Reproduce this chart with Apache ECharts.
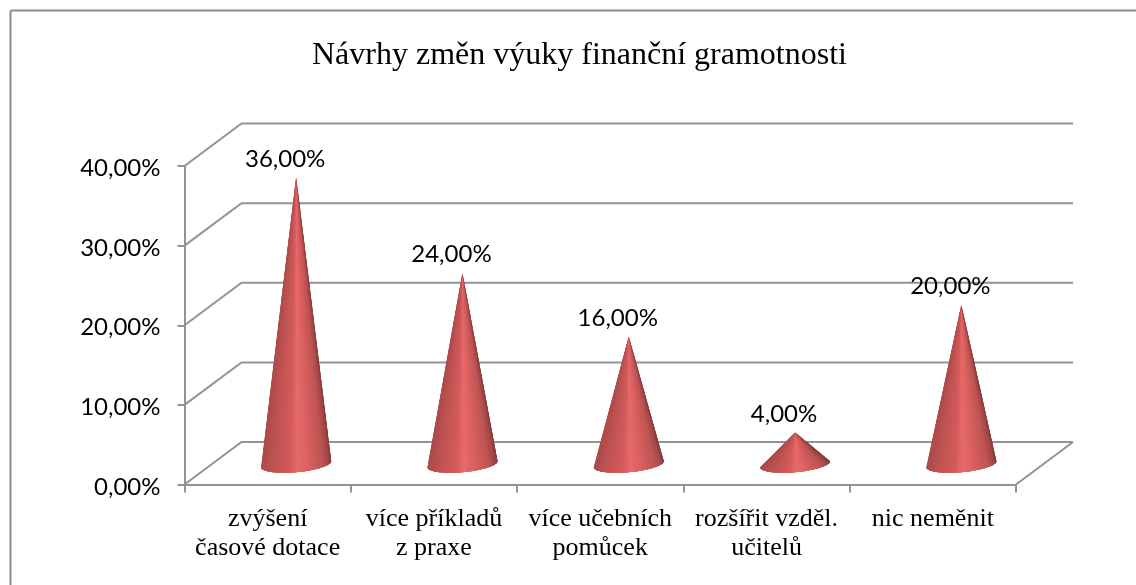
<!DOCTYPE html>
<html>
<head>
<meta charset="utf-8">
<style>html,body{margin:0;padding:0;background:#fff}#c{width:1136px;height:585px}</style>
<script src="https://cdn.jsdelivr.net/npm/echarts@6/dist/echarts.min.js"></script>
</head>
<body>
<div id="c"></div>
<script>
const titleText = 'Návrhy změn výuky finanční gramotnosti';
const categories = ['zvýšení\nčasové dotace', 'více příkladů\nz praxe', 'více učebních\npomůcek', 'rozšířit vzděl.\nučitelů', 'nic neměnit'];
const values = [36, 24, 16, 4, 20];
const yTicks = [0, 10, 20, 30, 40];

const DEPTH_X = 57, DEPTH_Y = 42.5;
const GRAY = '#939393';
const fmt = v => v.toFixed(2).replace('.', ',') + '%';

const ramp = [[-1,[172,74,74]],[-0.7,[190,82,82]],[-0.2,[210,90,90]],[0.05,[232,106,106]],[0.28,[222,98,98]],[0.75,[192,84,84]],[0.94,[160,70,70]],[1,[130,58,58]]];
function shade(u){
  for(let i=1;i<ramp.length;i++){
    if(u<=ramp[i][0]){
      const a=ramp[i-1],b=ramp[i],f=(u-a[0])/(b[0]-a[0]);
      const c=a[1].map((x,k)=>Math.round(x+(b[1][k]-x)*f));
      return 'rgb('+c.join(',')+')';
    }
  }
  return 'rgb('+ramp[ramp.length-1][1].join(',')+')';
}

function renderWall(params, api){
  const v = api.value(0);
  const a = api.coord([0, v]);
  const left = params.coordSys.x, right = left + params.coordSys.width;
  const y = a[1];
  const style = {stroke: GRAY, lineWidth: 2, fill: null};
  const kids = [
    {type:'polyline', shape:{points:[[left,y],[left+DEPTH_X,y-DEPTH_Y],[right+DEPTH_X,y-DEPTH_Y]]}, style}
  ];
  if(v === 0){
    kids.push({type:'line', shape:{x1:right,y1:y,x2:right+DEPTH_X,y2:y-DEPTH_Y}, style});
  }
  return {type:'group', children:kids};
}

function renderCone(params, api){
  const idx = api.value(0), val = api.value(1);
  const base = api.coord([idx, 0]);
  const top = api.coord([idx, val]);
  const cx = base[0] + DEPTH_X/2, cy = base[1] - DEPTH_Y/2 + 1;
  const tipY = top[1] - DEPTH_Y/2 + 1;
  const A = 35, B = 8, TILT = 3, N = 60, OVER = 4;
  const pt = t => [cx + A*Math.cos(t), cy + B*Math.sin(t) - TILT*Math.cos(t)];
  const kids = [];
  for(let i=0;i<N;i++){
    const pts = [[cx,tipY]];
    const end = Math.min(N, i+OVER);
    for(let j=i;j<=end;j++) pts.push(pt(Math.PI*(1-j/N)));
    const c = shade(Math.cos(Math.PI*(1-(i+0.5)/N)));
    kids.push({type:'polygon', shape:{points:pts}, style:{fill:c}});
  }
  kids.push({type:'text', style:{text:fmt(val), x:cx-11, y:tipY-18.5, align:'center', verticalAlign:'middle',
    fill:'#000', font:'24px Lato'}, z2:10});
  return {type:'group', children:kids};
}

const chart = echarts.init(document.getElementById('c'), null, {renderer:'canvas'});
chart.setOption({
  animation:false,
  backgroundColor:'#fff',
  title:{text:titleText, left:574.5, top:35, textAlign:'center',
    textStyle:{fontFamily:'Liberation Serif', fontSize:32, fontWeight:'normal', color:'#000'}},
  grid:{left:184.5, right:120, top:166, bottom:100.5, containLabel:false},
  xAxis:{type:'category', data:categories, boundaryGap:true,
    axisLine:{show:true, lineStyle:{color:GRAY, width:2}},
    axisTick:{show:true, length:8, lineStyle:{color:GRAY, width:2}},
    axisLabel:{interval:0, margin:20.5, color:'#000', fontFamily:'Liberation Serif', fontSize:26, lineHeight:29},
    splitLine:{show:false}},
  yAxis:{type:'value', min:0, max:40, interval:10,
    axisLine:{show:true, lineStyle:{color:GRAY, width:2}},
    axisTick:{show:true, length:7, lineStyle:{color:GRAY, width:2}},
    axisLabel:{margin:24, color:'#000', fontFamily:'Lato', fontSize:24, verticalAlign:'top', lineHeight:5, formatter:fmt},
    splitLine:{show:false}},
  graphic:[
    {type:'line', shape:{x1:10.5,y1:10.5,x2:1136,y2:10.5}, style:{stroke:'#8c8c8c', lineWidth:2}, silent:true},
    {type:'line', shape:{x1:10.5,y1:10.5,x2:10.5,y2:585}, style:{stroke:'#8c8c8c', lineWidth:2}, silent:true}
  ],
  series:[
    {type:'custom', name:'walls', data:yTicks.map(v=>[v]), renderItem:renderWall, clip:false, silent:true, z:1,
      encode:{y:0}},
    {type:'custom', name:'cones', data:values.map((v,i)=>[i,v]), renderItem:renderCone, clip:false, silent:true, z:2,
      encode:{x:0,y:1}}
  ]
});
</script>
</body>
</html>
